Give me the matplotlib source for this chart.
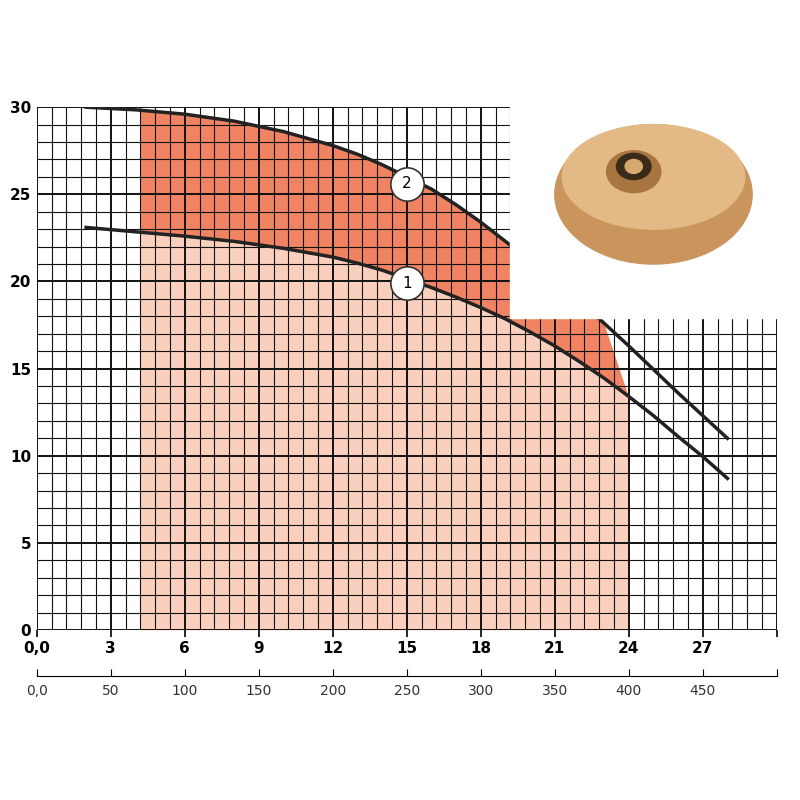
import matplotlib.pyplot as plt
import numpy as np
from matplotlib.patches import Rectangle, Ellipse, Polygon

# curve readings (flow m3/h, head m)
q1 = [2, 4, 6, 8, 10, 12, 13, 14, 15, 16, 17, 18, 19, 20, 21, 22, 23, 24, 25, 26, 27, 28]
h1 = [23.1, 22.85, 22.6, 22.3, 21.9, 21.4, 21.05, 20.65, 20.15, 19.65, 19.1, 18.5, 17.85, 17.1, 16.3, 15.4, 14.45, 13.4, 12.3, 11.1, 9.95, 8.7]
q2 = [2, 4, 6, 8, 10, 12, 13, 14, 15, 16, 17, 18, 19, 20, 21, 22, 23, 24, 25, 26, 27, 28]
h2 = [30.0, 29.85, 29.6, 29.2, 28.6, 27.8, 27.3, 26.7, 26.0, 25.3, 24.4, 23.4, 22.3, 21.2, 20.1, 18.9, 17.6, 16.3, 14.95, 13.6, 12.3, 11.0]
q_min, q_max = 4.2, 24
xticks = [0, 3, 6, 9, 12, 15, 18, 21, 24, 27, 30]
xlabels = ['0,0', '3', '6', '9', '12', '15', '18', '21', '24', '27', '']
l_ticks = [0, 50, 100, 150, 200, 250, 300, 350, 400, 450, 500]
l_labels = ['0,0', '50', '100', '150', '200', '250', '300', '350', '400', '450', '']
yticks = [0, 5, 10, 15, 20, 25, 30]

fig = plt.figure(figsize=(8, 8), dpi=100)
ax = fig.add_axes([0.046, 0.2125, 0.925, 0.6535])
ax.set_xlim(0, 30)
ax.set_ylim(0, 30)

for i in range(51):
    v = i * 0.6
    lw = 1.4 if i % 5 == 0 else 0.8
    ax.axvline(v, color='#111111', lw=lw, zorder=3)
for i in range(31):
    lw = 1.4 if i % 5 == 0 else 0.8
    ax.axhline(i, color='#111111', lw=lw, zorder=3)

# light fill under curve 1
xs = np.array(q1, float)
ys = np.array(h1)
m = (xs > q_min) & (xs <= q_max)
fx = np.concatenate([[q_min], xs[m]])
fy = np.concatenate([[np.interp(q_min, xs, ys)], ys[m]])
ax.fill_between(fx, 0, fy, color='#fbcfbd', zorder=1, lw=0)
# dark fill between curves
x2 = np.array(q2, float)
y2 = np.array(h2)
m2 = (x2 > q_min) & (x2 <= 23)
top = [(q_min, np.interp(q_min, x2, y2))] + list(zip(x2[m2], y2[m2])) + [(q_max, 13.4)]
bot = list(zip(fx[::-1], fy[::-1]))
ax.add_patch(Polygon(top + bot, closed=True, color='#f08462', zorder=1, lw=0))

ax.plot(q1, h1, color='#222222', lw=2.5, zorder=4)
ax.plot(q2, h2, color='#222222', lw=2.5, zorder=4)

# photo box
ax.add_patch(Rectangle((19.2, 17.9), 10.8, 12.1, color='white', zorder=5))
ax.add_patch(Ellipse((25, 25), 8.0, 8.0, color='#c9955d', zorder=6))
ax.add_patch(Ellipse((25, 26), 7.4, 6.0, color='#e3b985', zorder=6))
ax.add_patch(Ellipse((24.2, 26.3), 2.2, 2.4, color='#a8743f', zorder=7))
ax.add_patch(Ellipse((24.2, 26.6), 1.4, 1.5, color='#3a2a1a', zorder=7))
ax.add_patch(Ellipse((24.2, 26.6), 0.7, 0.8, color='#d6aa6f', zorder=7))

for x, y, t in [(15, 25.6, '2'), (15, 19.9, '1')]:
    ax.plot(x, y, 'o', ms=24, mfc='white', mec='#333333', mew=1.2, zorder=8)
    ax.text(x, y, t, ha='center', va='center', fontsize=11, zorder=9)

ax.set_xticks(xticks)
ax.set_xticklabels(xlabels, fontweight='bold', fontsize=11)
ax.set_yticks(yticks)
ax.set_yticklabels([str(v) for v in yticks], fontweight='bold', fontsize=11)
ax.tick_params(axis='x', length=5, pad=3, width=1.2)
ax.tick_params(axis='y', length=0, pad=4)
for s in ax.spines.values():
    s.set_visible(False)

ax2 = fig.add_axes([0.046, 0.155, 0.925, 0.001])
ax2.set_xlim(0, 500)
ax2.set_yticks([])
ax2.set_xticks(l_ticks)
ax2.set_xticklabels(l_labels, fontsize=10, color='#333333')
ax2.tick_params(length=5, direction='in', pad=6)
for s in ['top', 'left', 'right']:
    ax2.spines[s].set_visible(False)

fig.savefig('out.png', dpi=100)
